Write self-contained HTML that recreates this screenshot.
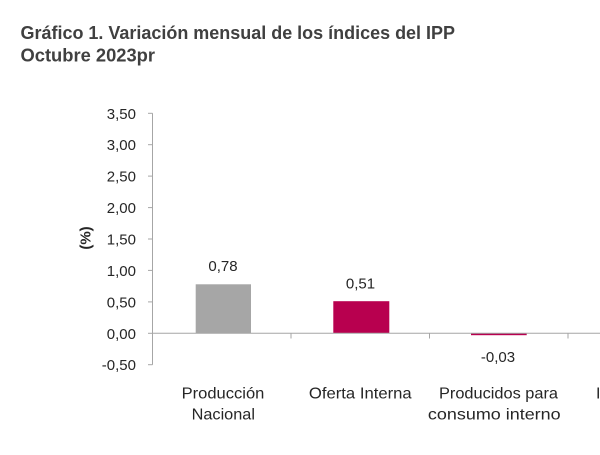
<!DOCTYPE html>
<html>
<head>
<meta charset="utf-8">
<style>
  html, body { margin:0; padding:0; background:#ffffff; }
  body { width:600px; height:455px; overflow:hidden; }
  svg { display:block; }
  text { font-family: "Liberation Sans", "DejaVu Sans", sans-serif; }
</style>
</head>
<body>
<svg width="600" height="455" viewBox="0 0 600 455" xmlns="http://www.w3.org/2000/svg">
  <rect x="0" y="0" width="600" height="455" fill="#ffffff"/>

  <!-- Title -->
  <text x="20.5" y="39" font-size="18" font-weight="bold" fill="#404040" textLength="434.5" lengthAdjust="spacingAndGlyphs">Gráfico 1. Variación mensual de los índices del IPP</text>
  <text x="20.5" y="61.5" font-size="18" font-weight="bold" fill="#404040" textLength="134.5" lengthAdjust="spacingAndGlyphs">Octubre 2023pr</text>

  <!-- Y axis label -->
  <text transform="translate(90.5,238) rotate(-90)" text-anchor="middle" font-size="15" font-weight="bold" fill="#262626">(%)</text>

  <!-- Y axis line and ticks -->
  <g stroke="#a6a6a6" stroke-width="1">
    <line x1="152.5" y1="113.3" x2="152.5" y2="364.7"/>
    <line x1="148" y1="113.3" x2="152.5" y2="113.3"/>
    <line x1="148" y1="144.7" x2="152.5" y2="144.7"/>
    <line x1="148" y1="176.1" x2="152.5" y2="176.1"/>
    <line x1="148" y1="207.6" x2="152.5" y2="207.6"/>
    <line x1="148" y1="239.0" x2="152.5" y2="239.0"/>
    <line x1="148" y1="270.4" x2="152.5" y2="270.4"/>
    <line x1="148" y1="301.9" x2="152.5" y2="301.9"/>
    <line x1="148" y1="333.3" x2="152.5" y2="333.3"/>
    <line x1="148" y1="364.7" x2="152.5" y2="364.7"/>
  </g>

  <!-- Y tick labels -->
  <g font-size="15" fill="#262626" text-anchor="end">
    <text x="136" y="118.8">3,50</text>
    <text x="136" y="150.2">3,00</text>
    <text x="136" y="181.6">2,50</text>
    <text x="136" y="213.1">2,00</text>
    <text x="136" y="244.5">1,50</text>
    <text x="136" y="275.9">1,00</text>
    <text x="136" y="307.4">0,50</text>
    <text x="136" y="338.8">0,00</text>
    <text x="136" y="370.2">-0,50</text>
  </g>

  <!-- Bars -->
  <rect x="195.7" y="284.3" width="55.3" height="49" fill="#a6a6a6"/>
  <rect x="333.3" y="301.2" width="56" height="32.1" fill="#b8004f"/>
  <rect x="471" y="333.3" width="55.7" height="1.9" fill="#b8004f"/>

  <!-- Zero line and category ticks -->
  <g stroke="#a6a6a6" stroke-width="1">
    <line x1="152.5" y1="333.3" x2="600" y2="333.3"/>
    <line x1="291" y1="333.3" x2="291" y2="338.5"/>
    <line x1="429.5" y1="333.3" x2="429.5" y2="338.5"/>
    <line x1="568" y1="333.3" x2="568" y2="338.5"/>
  </g>

  <!-- Data labels -->
  <g font-size="15" fill="#262626" text-anchor="middle">
    <text x="223" y="271">0,78</text>
    <text x="360.5" y="288.5">0,51</text>
    <text x="498" y="362">-0,03</text>
  </g>

  <!-- Category labels -->
  <g font-size="16" fill="#262626" text-anchor="middle">
    <text x="223" y="398.3" textLength="82.7" lengthAdjust="spacingAndGlyphs">Producción</text>
    <text x="223.3" y="419.3" textLength="63.3" lengthAdjust="spacingAndGlyphs">Nacional</text>
    <text x="360.3" y="398.3" textLength="102.7" lengthAdjust="spacingAndGlyphs">Oferta Interna</text>
    <text x="498.5" y="398.3" textLength="119" lengthAdjust="spacingAndGlyphs">Producidos para</text>
    <text x="494.3" y="419.3" textLength="132.7" lengthAdjust="spacingAndGlyphs">consumo interno</text>
    <text x="636" y="398.3">Importados</text>
  </g>
</svg>
</body>
</html>
